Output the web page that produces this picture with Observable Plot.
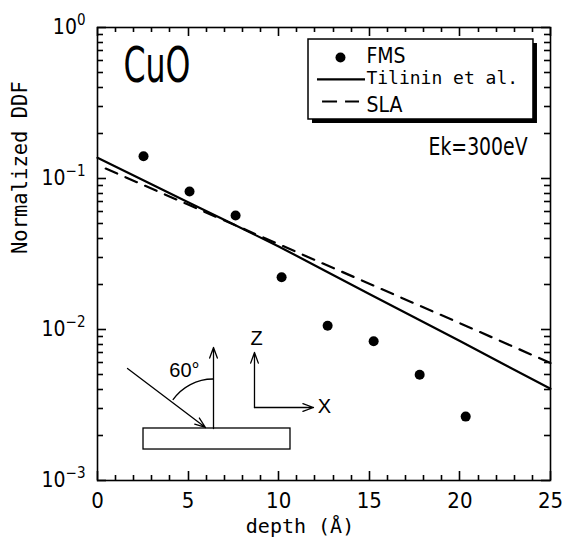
<!DOCTYPE html>
<html><head><meta charset="utf-8">
<script src="https://cdn.jsdelivr.net/npm/d3@7"></script>
<script src="https://cdn.jsdelivr.net/npm/@observablehq/plot@0.6"></script>
<style>html,body{margin:0;padding:0;background:#fff;overflow:hidden}</style>
</head><body><div id="chart"></div>
<script>
// ---- data ----
const fmsDepth = [2.54, 5.08, 7.62, 10.16, 12.70, 15.24, 17.78, 20.32];
const fmsDDF   = [0.1405, 0.082, 0.0569, 0.0222, 0.0106, 0.00837, 0.00501, 0.00265];
const tilininDepth = [0, 2.5, 5, 7.5, 10, 12.5, 15, 17.5, 20, 22.5, 25];
const tilininDDF   = [0.137, 0.0977, 0.0697, 0.0497, 0.0355, 0.0247, 0.0172, 0.0120, 0.00838, 0.00582, 0.00405];
const slaDepth = [0, 5, 10, 15, 20, 25];
const slaDDF   = [0.123, 0.0672, 0.0367, 0.0201, 0.0110, 0.0060];

const xMajorTicks = [0, 5, 10, 15, 20, 25];
const xMinorTicks = [1,2,3,4,6,7,8,9,11,12,13,14,16,17,18,19,21,22,23,24];
const yMajorTicks = [1e-3, 1e-2, 1e-1, 1];
const yExponents  = ["−3", "−2", "−1", "0"];
const yMinorTicks = [2e-3,3e-3,4e-3,5e-3,6e-3,7e-3,8e-3,9e-3,
                     2e-2,3e-2,4e-2,5e-2,6e-2,7e-2,8e-2,9e-2,
                     2e-1,3e-1,4e-1,5e-1,6e-1,7e-1,8e-1,9e-1];

const seriesNames = ["FMS", "Tilinin et al.", "SLA"];
const panelTitle = "CuO";
const energyLabel = "Ek=300eV";
const xLabel = "depth (Å)";
const yLabel = "Normalized DDF";

// ---- annotation anchor points (data units) ----
const legendBox = [{x1: 11.645, x2: 24.06, y1: 0.8326, y2: 0.2459}];
const legendRows = [
  {name: seriesNames[0], tx: 14.84, ty: 0.643},
  {name: seriesNames[1], tx: 14.84, ty: 0.4595},
  {name: seriesNames[2], tx: 14.84, ty: 0.3043}
];
const legendDot = [{x: 13.41, y: 0.633}];
const legendSolid = [{x1: 12.14, x2: 14.79, y: 0.4527}];
const legendDash = [{x1: 12.42, x2: 14.46, y: 0.3236}];
const substrate = [{x1: 2.539, x2: 10.651, y1: 0.00221, y2: 0.001604}];
const normalArrow = [{x1: 6.402, y1: 0.00221, x2: 6.402, y2: 0.0076}];
const incidentArrow = [{x1: 1.656, y1: 0.00552, x2: 5.96, y2: 0.002244}];
const axesArrows = [
  {x1: 8.664, y1: 0.003044, x2: 8.664, y2: 0.00704},
  {x1: 8.664, y1: 0.003044, x2: 11.92, y2: 0.003044}
];
const insetLabels = [
  {t: "60°", x: 4.80, y: 0.00535},
  {t: "Z", x: 8.775, y: 0.00872},
  {t: "X", x: 12.53, y: 0.00309}
];

const fms = fmsDepth.map((x, i) => ({x, y: fmsDDF[i]}));
const tilinin = tilininDepth.map((x, i) => ({x, y: tilininDDF[i]}));
const sla = slaDepth.map((x, i) => ({x, y: slaDDF[i]}));
const yTickLabels = yMajorTicks.map((v, i) => ({v, t: "10^" + yExponents[i]}));

const narrow = "'Liberation Sans Narrow','DejaVu Sans Condensed',sans-serif";
const mono = "'DejaVu Sans Mono',monospace";

const majorLen = 9, minorLen = 6;

// inward ticks on all four sides, placed with the plot's scales
function inwardTicks(index, scales, values, dims) {
  const top = dims.marginTop, bottom = dims.height - dims.marginBottom;
  const left = dims.marginLeft, right = dims.width - dims.marginRight;
  const g = d3.create("svg:g");
  const seg = (x1, y1, x2, y2) => g.append("line")
    .attr("x1", x1).attr("y1", y1).attr("x2", x2).attr("y2", y2)
    .attr("stroke", "#000").attr("stroke-width", 1.6);
  for (const [ticks, len] of [[xMajorTicks, majorLen], [xMinorTicks, minorLen - 1]]) {
    for (const v of ticks) {
      const x = Math.round(scales.x(v)) + 0.5;
      seg(x, bottom, x, bottom - len);
      seg(x, top, x, top + len);
    }
  }
  for (const [ticks, len] of [[yMajorTicks, majorLen], [yMinorTicks, minorLen]]) {
    for (const v of ticks) {
      const y = Math.round(scales.y(v)) + 0.5;
      seg(left, y, left + len, y);
      seg(right, y, right - len, y);
    }
  }
  return g.node();
}

// angle arc of the incidence angle (uses the plot's scales)
function angleArc(index, scales) {
  const cx = scales.x(normalArrow[0].x1), cy = scales.y(normalArrow[0].y1);
  const sx = scales.x(incidentArrow[0].x1), sy = scales.y(incidentArrow[0].y1);
  const a0 = Math.atan2(sy - cy, sx - cx), a1 = -Math.PI / 2;
  const p = d3.path();
  const r = 49;
  p.moveTo(cx + r * Math.cos(a0), cy + r * Math.sin(a0));
  p.arc(cx, cy, r, a0, a1, false);
  return d3.create("svg:path").attr("d", p.toString()).attr("fill", "none")
    .attr("stroke", "black").attr("stroke-width", 1.3).node();
}

const plot = Plot.plot({
  width: 562, height: 542,
  marginLeft: 97, marginRight: 12, marginTop: 27, marginBottom: 62,
  style: {fontFamily: narrow, fontSize: "22px", color: "black", background: "white", overflow: "visible"},
  x: {domain: [0, 25], axis: null},
  y: {type: "log", domain: [1e-3, 1], axis: null},
  marks: [
    // data
    Plot.line(tilinin, {x: "x", y: "y", stroke: "black", strokeWidth: 2.2}),
    Plot.line(sla, {x: "x", y: "y", stroke: "black", strokeWidth: 2.2, strokeDasharray: "12.5,9", strokeDashoffset: 12.5}),
    Plot.dot(fms, {x: "x", y: "y", r: 5, fill: "black"}),
    Plot.frame({stroke: "black", strokeWidth: 1.6}),
    inwardTicks,
    // tick labels
    Plot.text(xMajorTicks, {x: d => d, frameAnchor: "bottom", lineAnchor: "top", dy: 12, fontSize: 22}),
    Plot.text(yTickLabels, {y: "v", text: "t", frameAnchor: "left", textAnchor: "end", dx: -12, fontSize: 21}),
    Plot.text([xLabel], {frameAnchor: "bottom", dx: -24, dy: 52, fontFamily: mono, fontSize: 20}),
    Plot.text([yLabel], {frameAnchor: "left", dx: -77, rotate: -90, fontFamily: mono, fontSize: 20.5}),
    // titles
    Plot.text([panelTitle], {x: 1.43, y: 0.552, textAnchor: "start", fontSize: 50}),
    Plot.text([energyLabel], {x: 18.27, y: 0.160, textAnchor: "start", fontSize: 24}),
    // legend
    Plot.rect(legendBox, {x1: "x1", x2: "x2", y1: "y1", y2: "y2", fill: "black", dx: 4, dy: 4}),
    Plot.rect(legendBox, {x1: "x1", x2: "x2", y1: "y1", y2: "y2", fill: "white", stroke: "black", strokeWidth: 1.5}),
    Plot.dot(legendDot, {x: "x", y: "y", r: 5, fill: "black"}),
    Plot.ruleY(legendSolid, {y: "y", x1: "x1", x2: "x2", stroke: "black", strokeWidth: 2.2}),
    Plot.ruleY(legendDash, {y: "y", x1: "x1", x2: "x2", stroke: "black", strokeWidth: 2.2, strokeDasharray: "15,8"}),
    Plot.text(legendRows.slice(0, 1), {x: "tx", y: "ty", text: "name", textAnchor: "start", fontSize: 21}),
    Plot.text(legendRows.slice(1, 2), {x: "tx", y: "ty", text: "name", textAnchor: "start", fontSize: 18, fontFamily: mono}),
    Plot.text(legendRows.slice(2, 3), {x: "tx", y: "ty", text: "name", textAnchor: "start", fontSize: 21}),
    // inset sketch
    Plot.rect(substrate, {x1: "x1", x2: "x2", y1: "y1", y2: "y2", fill: "white", stroke: "black", strokeWidth: 1.3}),
    Plot.arrow(normalArrow, {x1: "x1", y1: "y1", x2: "x2", y2: "y2", stroke: "black", strokeWidth: 1.3, headLength: 13, headAngle: 40}),
    Plot.arrow(incidentArrow, {x1: "x1", y1: "y1", x2: "x2", y2: "y2", stroke: "black", strokeWidth: 1.3, headLength: 13, headAngle: 40}),
    Plot.arrow(axesArrows, {x1: "x1", y1: "y1", x2: "x2", y2: "y2", stroke: "black", strokeWidth: 1.3, headLength: 13, headAngle: 40}),
    angleArc,
    Plot.text(insetLabels, {x: "x", y: "y", text: "t", fontSize: 20, fontFamily: "'Liberation Sans',sans-serif"})
  ]
});

// superscript exponents on the y tick labels; fit condensed titles
d3.select(plot).selectAll("text").each(function() {
  const s = this.textContent;
  if (s.startsWith("10^")) {
    const t = d3.select(this);
    t.text(null);
    t.append("tspan").text("10");
    t.append("tspan").attr("font-size", 15).attr("dy", -9).text(s.slice(3));
  } else if (s === panelTitle) {
    d3.select(this).attr("textLength", 67).attr("lengthAdjust", "spacingAndGlyphs");
  } else if (s === energyLabel) {
    d3.select(this).attr("textLength", 99).attr("lengthAdjust", "spacingAndGlyphs");
  }
});
document.getElementById("chart").appendChild(plot);
</script>
</body></html>
